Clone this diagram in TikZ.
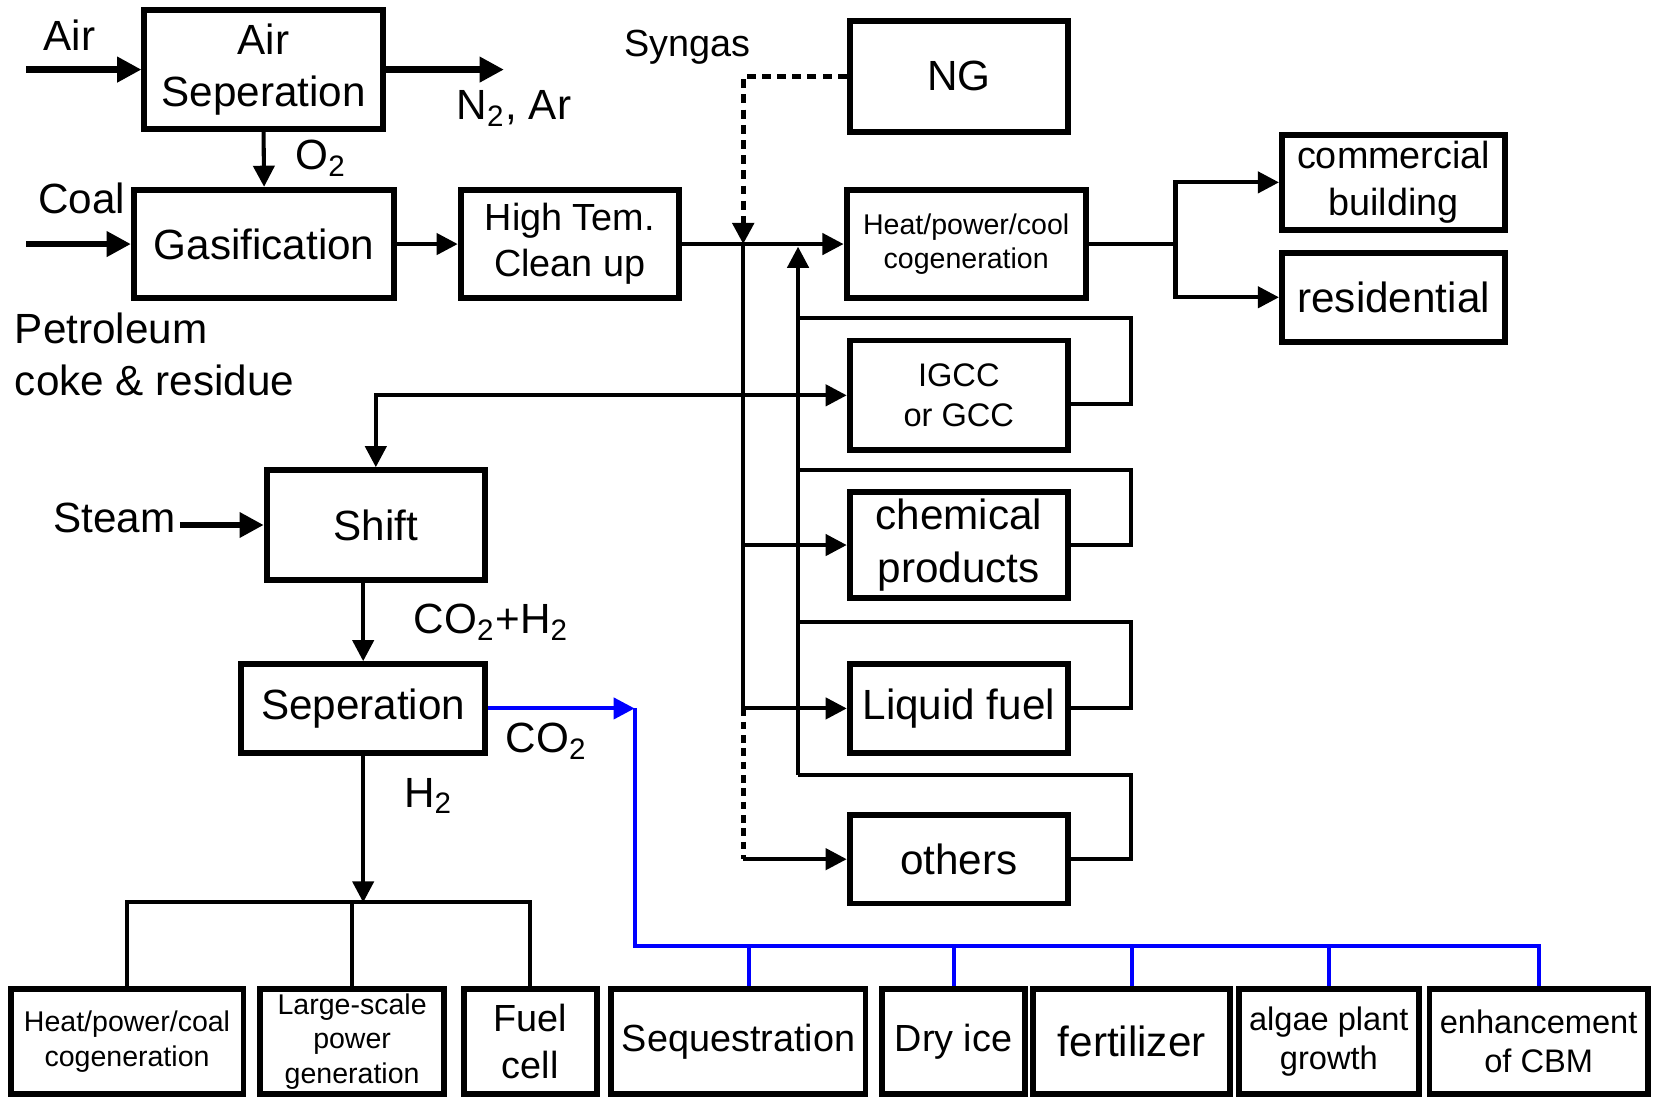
\documentclass[tikz,border=0pt]{standalone}
\usepackage{fontspec}
\setmainfont{Liberation Sans}
\usepackage{xcolor}
\definecolor{co2Blue}{RGB}{0, 0, 255}
\usepackage{tikz}
\usetikzlibrary{arrows.meta, positioning, calc}
\newcommand{\sizeL}{\fontsize{11.4pt}{14.2pt}\selectfont}
\newcommand{\sizeM}{\fontsize{10.2pt}{12.5pt}\selectfont}
\newcommand{\sizeS}{\fontsize{8.8pt}{10.6pt}\selectfont}
\newcommand{\sizeT}{\fontsize{7.7pt}{9.3pt}\selectfont}

\begin{document}
\begin{tikzpicture}[x=1cm, y=1cm,
    box/.style={draw, line width=1.6pt, align=center, inner sep=0pt},
    lbl/.style={font=\sizeL, inner sep=1pt},
    flow/.style={line width=1.1pt},
    arr/.style={flow, -{Triangle[length=2mm, width=2mm]}},
    feed/.style={line width=1.8pt, -{Triangle[length=2.3mm, width=2.3mm]}},
    co2line/.style={flow, co2Blue}]
    \useasboundingbox (0,0) rectangle (15.68,10.41);

    % gasification train
    \node[box, minimum width=2.26cm, minimum height=1.13cm, font=\sizeL] (airsep) at (2.50,9.75) {Air\\Seperation};
    \node[box, minimum width=2.47cm, minimum height=1.03cm, font=\sizeL] (gasif) at (2.505,8.095) {Gasification};
    \node[box, minimum width=2.07cm, minimum height=1.03cm, font=\sizeM] (clean) at (5.405,8.095) {High Tem.\\Clean up};
    \node[box, minimum width=2.07cm, minimum height=1.05cm, font=\sizeL] (ng) at (9.095,9.685) {NG};
    \node[box, minimum width=2.27cm, minimum height=1.03cm, font=\sizeT] (chp) at (9.165,8.095) {Heat/power/cool\\cogeneration};
    \node[box, minimum width=2.12cm, minimum height=0.90cm, font=\sizeM] (comm) at (13.22,8.68) {commercial\\building};
    \node[box, minimum width=2.12cm, minimum height=0.84cm, font=\sizeL] (resid) at (13.22,7.59) {residential};

    % syngas users
    \node[box, minimum width=2.07cm, minimum height=1.04cm, font=\sizeS] (igcc) at (9.095,6.66) {IGCC\\or GCC};
    \node[box, minimum width=2.07cm, minimum height=1.00cm, font=\sizeL] (chem) at (9.095,5.24) {chemical\\products};
    \node[box, minimum width=2.07cm, minimum height=0.84cm, font=\sizeL] (liquid) at (9.095,3.69) {Liquid fuel};
    \node[box, minimum width=2.07cm, minimum height=0.84cm, font=\sizeL] (others) at (9.095,2.26) {others};

    % shift and separation
    \node[box, minimum width=2.07cm, minimum height=1.04cm, font=\sizeL] (shift) at (3.565,5.43) {Shift};
    \node[box, minimum width=2.31cm, minimum height=0.84cm, font=\sizeL] (sepr) at (3.445,3.69) {Seperation};

    % bottom row
    \node[box, minimum width=2.21cm, minimum height=1.00cm, font=\sizeT] (bchp) at (1.205,0.53) {Heat/power/coal\\cogeneration};
    \node[box, minimum width=1.74cm, minimum height=1.00cm, font=\sizeT] (large) at (3.34,0.53) {Large-scale\\power\\generation};
    \node[box, minimum width=1.26cm, minimum height=1.00cm, font=\sizeM] (fuelc) at (5.03,0.53) {Fuel\\cell};
    \node[box, minimum width=2.41cm, minimum height=1.00cm, font=\sizeM] (seq) at (7.005,0.53) {Sequestration};
    \node[box, minimum width=1.35cm, minimum height=1.00cm, font=\sizeM] (dry) at (9.045,0.53) {Dry ice};
    \node[box, minimum width=1.87cm, minimum height=1.00cm, font=\sizeL] (fert) at (10.735,0.53) {fertilizer};
    \node[box, minimum width=1.71cm, minimum height=1.00cm, font=\sizeS] (algae) at (12.605,0.53) {algae plant\\growth};
    \node[box, minimum width=2.07cm, minimum height=1.00cm, font=\sizeS] (cbm) at (14.595,0.53) {enhancement\\of CBM};

    % labels
    \node[lbl] (airlbl) at (0.66,10.08) {Air};
    \node[lbl] (n2lbl) at (4.875,9.38) {N\textsubscript{2}, Ar};
    \node[lbl] (o2lbl) at (3.045,8.91) {O\textsubscript{2}};
    \node[lbl] (coallbl) at (0.775,8.53) {Coal};
    \node[lbl, align=left, anchor=west] (petlbl) at (0.10,7.05) {Petroleum\\coke \& residue};
    \node[lbl, font=\sizeM] (synlbl) at (6.52,9.96) {Syngas};
    \node[lbl] (steamlbl) at (1.085,5.50) {Steam};
    \node[lbl] (co2h2lbl) at (4.66,4.51) {CO\textsubscript{2}+H\textsubscript{2}};
    \node[lbl] (co2lbl) at (5.185,3.38) {CO\textsubscript{2}};
    \node[lbl] (h2lbl) at (4.065,2.86) {H\textsubscript{2}};

    \coordinate (airin) at (0.25,9.75);
    \coordinate (n2out) at (4.78,9.75);
    \coordinate (coalin) at (0.25,8.095);
    \coordinate (sj) at (7.05,8.095);
    \coordinate (rbot) at (7.57,3.06);
    \coordinate (rtop) at (7.57,8.07);
    \coordinate (bj) at (11.15,8.095);
    \coordinate (hbus) at (3.43,1.85);
    \coordinate (cturn) at (6.02,3.69);
    \coordinate (cbus) at (6.02,1.44);
    \coordinate (seqtop) at ([xshift=1mm]seq.north);

    % feeds
    \draw[feed] (airin) -- (airsep.west);
    \draw[feed] (airsep.east) -- (n2out);
    \draw[arr] (airsep.south) -- (gasif.north);
    \draw[feed] (coalin) -- (gasif.west);
    \draw[arr] (gasif.east) -- (clean.west);
    \draw[arr] (clean.east) -- (chp.west);
    \draw[arr, line width=1.3pt, dash pattern=on 2.4pt off 1.7pt] (ng.west) -| (sj);

    % syngas distribution
    \draw[flow] (sj) -- (sj |- liquid.west);
    \draw[flow, line width=1.3pt, dash pattern=on 2pt off 1.6pt] (sj |- liquid.west) -- (sj |- others.west);
    \foreach \n in {igcc, chem, liquid, others}
        \draw[arr] (sj |- \n.west) -- (\n.west);
    \draw[arr] (sj |- igcc.west) -| (shift.north);

    % recycle loops
    \draw[arr] (rbot) -- (rtop);
    \foreach \n/\t/\s in {igcc/7.39/-0.8mm, chem/5.95/0mm, liquid/4.51/0mm, others/3.06/0mm}
        \draw[flow] ([yshift=\s]\n.east) -| (10.73,\t) -- (7.57,\t);

    % to buildings
    \draw[flow] (chp.east) -- (bj);
    \draw[arr] (bj) |- (comm.west);
    \draw[arr] (bj) |- (resid.west);

    % shift and H2
    \draw[feed] (steamlbl.east |- shift.west) -- (shift.west);
    \draw[arr] (sepr.north |- shift.south) -- (sepr.north);
    \draw[arr] (sepr.south) -- (sepr.south |- hbus);
    \draw[flow] (bchp.north) |- (hbus) -| (fuelc.north);
    \draw[flow] (large.north) -- (large.north |- hbus);

    % CO2 use
    \draw[co2line, -{Triangle[length=2mm, width=2mm]}] (sepr.east) -- (cturn);
    \draw[co2line] (cturn) -- (cbus) -| (cbm.north);
    \draw[co2line] (seqtop) -- (seqtop |- cbus);
    \foreach \n in {dry, fert, algae}
        \draw[co2line] (\n.north) -- (\n.north |- cbus);
\end{tikzpicture}
\end{document}
